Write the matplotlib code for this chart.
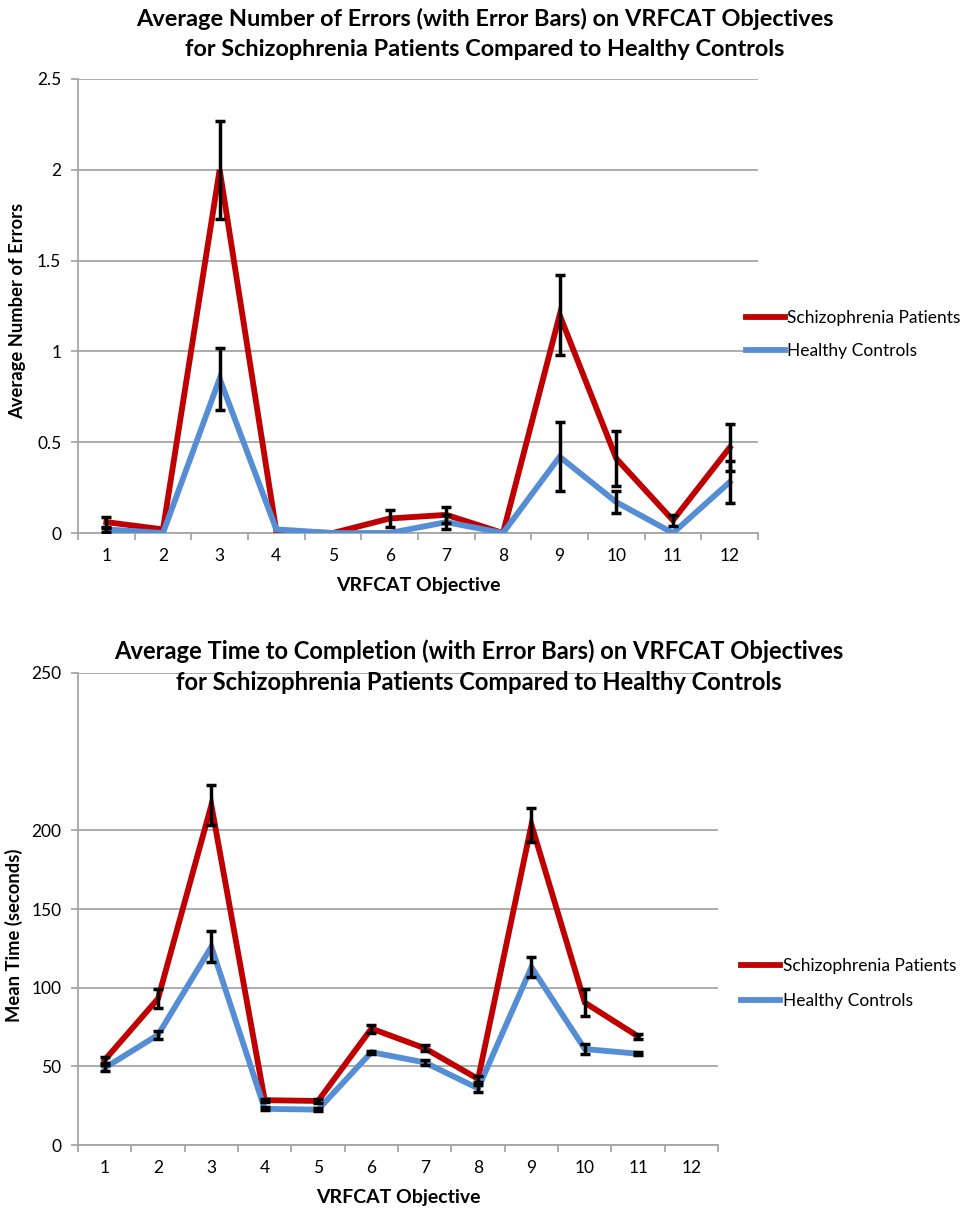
import numpy as np
import matplotlib
matplotlib.use("Agg")
import matplotlib.pyplot as plt
from matplotlib.ticker import FixedLocator, NullFormatter

plt.rcParams['font.family'] = ['Lato', 'DejaVu Sans']

objectives = list(range(1, 13))
tick_labels = [str(i) for i in objectives]

# Chart 1: average number of errors
err_schizo = [0.06, 0.02, 2.00, 0.01, 0.00, 0.08, 0.10, 0.00, 1.20, 0.41, 0.07, 0.47]
err_schizo_e = [0.03, 0.0, 0.27, 0.0, 0.0, 0.045, 0.045, 0.0, 0.22, 0.15, 0.03, 0.13]
err_healthy = [0.02, 0.00, 0.85, 0.02, 0.00, 0.00, 0.06, 0.00, 0.42, 0.17, 0.00, 0.28]
err_healthy_e = [0.015, 0.0, 0.17, 0.0, 0.0, 0.0, 0.04, 0.0, 0.19, 0.06, 0.0, 0.115]
err_yticks = [0, 0.5, 1, 1.5, 2, 2.5]
err_ytick_labels = ["0", "0.5", "1", "1.5", "2", "2.5"]

# Chart 2: average time to completion (seconds)
time_schizo = [54, 93, 216, 28.5, 28, 74, 61.5, 42, 203.5, 90.5, 69, np.nan]
time_schizo_e = [2, 6, 12.7, 1, 1, 2.5, 2, 2, 10.7, 8.7, 1.5, 0]
time_healthy = [49, 70, 126, 23, 22.5, 59, 52.5, 36, 113, 61, 58, np.nan]
time_healthy_e = [2, 2.5, 10, 1, 1, 1, 1.5, 2, 6.5, 3, 1, 0]
# the reference's top tick label "250" sits one step above the 200 line
time_yticks = [0, 50, 100, 150, 200, 300]
time_ytick_labels = ["0", "50", "100", "150", "200", "250"]

series_names = ["Schizophrenia Patients", "Healthy Controls"]
RED = "#C00000"
BLUE = "#558ED5"
GRID = "#A6A6A6"

fig = plt.figure(figsize=(9.7, 12.15), dpi=100)

def style_axes(ax, ymax, yticks, ylabels, ylabel, ylab_x, ylab_y):
    ax.set_xlim(0.5, 12.5)
    ax.set_ylim(0, ymax)
    ax.set_yticks(yticks, labels=ylabels)
    ax.grid(axis='y', color=GRID, linewidth=1.3)
    ax.set_axisbelow(True)
    for s in ['top', 'right']:
        ax.spines[s].set_visible(False)
    for s in ['left', 'bottom']:
        ax.spines[s].set_color(GRID)
        ax.spines[s].set_linewidth(1.3)
    ax.xaxis.set_major_locator(FixedLocator(np.arange(0.5, 13, 1)))
    ax.xaxis.set_major_formatter(NullFormatter())
    ax.set_xticks(objectives, labels=tick_labels, minor=True)
    ax.tick_params(axis='x', which='major', length=5, color=GRID, width=1.3)
    ax.tick_params(axis='x', which='minor', length=0, labelsize=12.5, pad=11)
    ax.tick_params(axis='y', length=5, color=GRID, width=1.3, labelsize=12.5, pad=7)
    ax.set_xlabel("VRFCAT Objective", fontsize=14, fontweight='bold', labelpad=9)
    ax.set_ylabel(ylabel, fontsize=13.2, fontweight='bold')
    ax.yaxis.set_label_coords(ylab_x, ylab_y)

def draw(ax, ys, es, colors):
    x = np.array(objectives)
    for y, c, name in zip(ys, colors, series_names):
        ax.plot(x, y, color=c, linewidth=4.2, solid_joinstyle='miter', label=name, zorder=3)
    for y, e in zip(ys, es):
        y = np.array(y, dtype=float); e = np.array(e, dtype=float)
        m = (e > 0) & ~np.isnan(y)
        ax.errorbar(x[m], y[m], yerr=e[m], fmt='none', ecolor='black',
                    elinewidth=2.5, capsize=3.5, capthick=2.5, zorder=4)

leg_kw = dict(frameon=False, fontsize=12.5, handlelength=2.25, handletextpad=0.15,
              borderpad=0, borderaxespad=0, loc='center left')

ax1 = fig.add_axes([0.0804, 0.5613, 0.701, 0.3737])
draw(ax1, [err_schizo, err_healthy], [err_schizo_e, err_healthy_e], [RED, BLUE])
style_axes(ax1, 2.5, err_yticks, err_ytick_labels, "Average Number of Errors", -0.076, 0.49)
ax1.legend(bbox_to_anchor=(0.982, 0.437), labelspacing=0.95, **leg_kw)
fig.text(0.5, 0.9845, "Average Number of Errors (with Error Bars) on VRFCAT Objectives",
         ha='center', va='center', fontsize=16.9, fontweight='bold')
fig.text(0.5, 0.9595, "for Schizophrenia Patients Compared to Healthy Controls",
         ha='center', va='center', fontsize=16.9, fontweight='bold')

ax2 = fig.add_axes([0.0804, 0.0576, 0.660, 0.3885])
draw(ax2, [time_schizo, time_healthy], [time_schizo_e, time_healthy_e], [RED, BLUE])
style_axes(ax2, 300, time_yticks, time_ytick_labels, "Mean Time (seconds)", -0.086, 0.445)
ax2.legend(bbox_to_anchor=(1.036, 0.342), labelspacing=1.1, **leg_kw)
fig.text(0.494, 0.4640, "Average Time to Completion (with Error Bars) on VRFCAT Objectives",
         ha='center', va='center', fontsize=17.1, fontweight='bold')
fig.text(0.494, 0.4385, "for Schizophrenia Patients Compared to Healthy Controls",
         ha='center', va='center', fontsize=17.1, fontweight='bold')

fig.savefig("out.png", dpi=100)
